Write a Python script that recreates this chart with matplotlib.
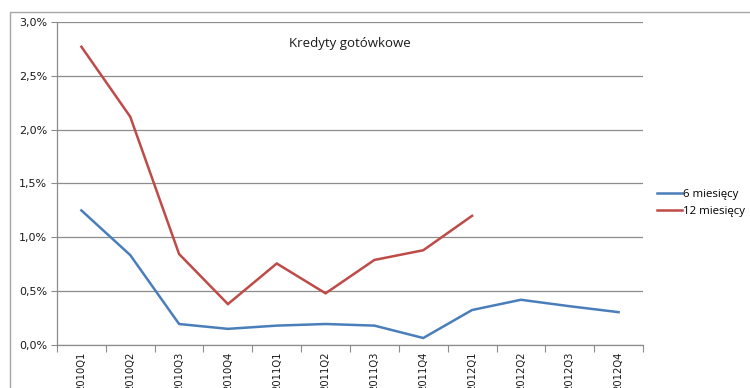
import matplotlib
matplotlib.use("Agg")
import matplotlib.pyplot as plt
from matplotlib.patches import Rectangle
from matplotlib.ticker import FuncFormatter, FixedLocator, NullFormatter
import numpy as np

categories = ["2010Q1", "2010Q2", "2010Q3", "2010Q4", "2011Q1", "2011Q2",
              "2011Q3", "2011Q4", "2012Q1", "2012Q2", "2012Q3", "2012Q4"]
six_months = [1.25, 0.835, 0.195, 0.15, 0.18, 0.195, 0.18, 0.065, 0.325, 0.42, 0.36, 0.305]
twelve_months = [2.77, 2.12, 0.845, 0.38, 0.757, 0.48, 0.79, 0.88, 1.20,
                 None, None, None]
series_names = ["6 miesięcy", "12 miesięcy"]
chart_title = "Kredyty gotówkowe"

BLUE = "#4A7EBB"
RED = "#BE4B48"
GRID = "#8C8C8C"

fig = plt.figure(figsize=(7.5, 3.88), dpi=100)
fig.patch.set_facecolor("white")

# outer chart border
fig.add_artist(Rectangle((10 / 750, -0.05), 1.0, 1 - 12 / 388 + 0.05,
                         transform=fig.transFigure, fill=False,
                         edgecolor="#A6A6A6", linewidth=1.0))

ax = fig.add_axes([57 / 750, 1 - 345 / 388, (643 - 57) / 750, (345 - 22) / 388])
x = np.arange(len(categories))
y12 = np.array([np.nan if v is None else v for v in twelve_months], dtype=float)

ax.plot(x, six_months, color=BLUE, lw=1.8, label=series_names[0], solid_joinstyle="miter")
ax.plot(x, y12, color=RED, lw=1.8, label=series_names[1], solid_joinstyle="miter")

ax.set_xlim(-0.5, len(categories) - 0.5)
ax.set_ylim(0, 3.0)
ax.set_yticks(np.arange(0, 3.01, 0.5))
ax.yaxis.set_major_formatter(FuncFormatter(lambda v, p: f"{v:.1f}%".replace(".", ",")))
ax.grid(axis="y", color=GRID, lw=0.9)
ax.set_axisbelow(True)

ax.xaxis.set_major_locator(FixedLocator(np.arange(-0.5, len(categories), 1.0)))
ax.xaxis.set_major_formatter(NullFormatter())
ax.xaxis.set_minor_locator(FixedLocator(x))
ax.set_xticklabels(categories, minor=True, rotation=90, fontsize=7.2,
                   family="Liberation Sans Narrow", color="#1A1A1A")
ax.tick_params(axis="x", which="major", length=5, color=GRID, direction="out")
ax.tick_params(axis="x", which="minor", length=0, pad=5)
ax.tick_params(axis="y", length=4, color=GRID, labelsize=8, colors="#1A1A1A", pad=3)

for s in ["top", "right"]:
    ax.spines[s].set_visible(False)
for s in ["left", "bottom"]:
    ax.spines[s].set_color(GRID)
    ax.spines[s].set_linewidth(0.9)

ax.text(0.5, 0.955, chart_title, transform=ax.transAxes, ha="center", va="top",
        fontsize=9.5, family="Open Sans", color="#1A1A1A")

leg = fig.legend(loc="center left", bbox_to_anchor=(647 / 750, 1 - 203 / 388),
                 frameon=False, handlelength=2.2, handletextpad=0.1,
                 labelspacing=0.55, prop={"family": "Open Sans", "size": 8.2})

fig.savefig("out.png", dpi=100)
